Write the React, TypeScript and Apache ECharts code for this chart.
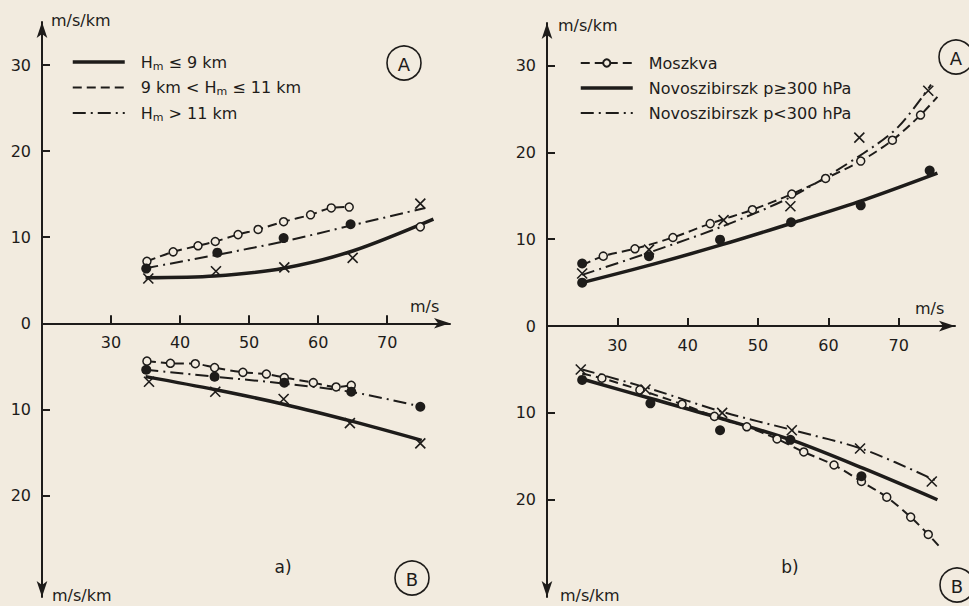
import React, { useEffect, useRef } from "react";
import * as echarts from "echarts";

type Pt = [number, number];

// ---------- axis ticks ----------
const xTicks = [30, 40, 50, 60, 70];
const yTicks = [-20, -10, 0, 10, 20, 30];

// ---------- legend names ----------
const legendA = ["Hm ≤ 9 km", "9 km < Hm ≤ 11 km", "Hm > 11 km"];
const legendB = ["Moszkva", "Novoszibirszk p≥300 hPa", "Novoszibirszk p<300 hPa"];

// ---------- panel a), part A (upper) ----------
const aTopSolid: Pt[] = [[35, 5.3], [45, 5.5], [55, 6.4], [65, 8.4], [76.7, 12.1]];
const aTopDashed: Pt[] = [[35.2, 7.2], [39, 8.3], [42.6, 9.0], [45.1, 9.5], [48.4, 10.3], [51.3, 10.9], [55, 11.8], [58.9, 12.6], [61.9, 13.4], [64.5, 13.5]];
const aTopDashDot: Pt[] = [[35, 6.4], [45, 7.9], [55, 9.5], [65, 11.4], [75.5, 13.4]];
const aTopOpenExtra: Pt[] = [[74.8, 11.2]];
const aTopFilled: Pt[] = [[35.1, 6.35], [45.4, 8.2], [55, 9.9], [64.7, 11.5]];
const aTopCross: Pt[] = [[35.4, 5.2], [45.2, 6.05], [55.1, 6.5], [65, 7.6], [74.8, 13.9]];

// ---------- panel a), part B (lower, values downward) ----------
const aBotSolid: Pt[] = [[35, 6.2], [45, 7.7], [55, 9.4], [65, 11.4], [75, 13.6]];
const aBotDashed: Pt[] = [[35.2, 4.4], [38.6, 4.65], [42.2, 4.7], [45, 5.15], [49.1, 5.7], [52.5, 5.9], [55.1, 6.3], [59.3, 6.9], [62.6, 7.4], [64.8, 7.2]];
const aBotDashDot: Pt[] = [[35, 5.4], [45, 6.2], [55, 7.0], [65, 8.0], [75, 9.7]];
const aBotFilled: Pt[] = [[35.1, 5.4], [45, 6.2], [55.1, 6.9], [64.8, 7.95], [74.8, 9.7]];
const aBotCross: Pt[] = [[35.5, 6.8], [45.1, 7.95], [55, 8.8], [64.6, 11.6], [74.8, 13.95]];

// ---------- panel b), part A (upper) ----------
const bTopMoszkva: Pt[] = [[25, 7.0], [28, 8.05], [32.5, 8.9], [37.9, 10.2], [43.2, 11.8], [49.2, 13.4], [54.8, 15.2], [59.6, 17.0], [64.6, 19.0], [69.1, 21.4], [73.1, 24.3], [75.5, 26.4]];
const bTopSolid: Pt[] = [[25, 5.0], [35, 7.1], [45, 9.4], [55, 11.9], [65, 14.5], [75.5, 17.6]];
const bTopDashDot: Pt[] = [[25, 5.9], [35, 8.6], [45, 11.5], [55, 15.0], [65, 19.9], [70, 23.0], [74.6, 27.8]];
const bTopFilled: Pt[] = [[25, 5.0], [25, 7.2], [34.5, 8.05], [44.6, 9.95], [54.7, 11.95], [64.6, 13.9], [74.4, 17.9]];
const bTopCross: Pt[] = [[25, 6.05], [34.5, 8.8], [45.1, 12.2], [54.6, 13.8], [64.4, 21.7], [74.2, 27.1]];

// ---------- panel b), part B (lower, values downward) ----------
const bBotMoszkva: Pt[] = [[25, 5.5], [27.8, 6.0], [33.2, 7.35], [39.2, 9.0], [43.8, 10.4], [48.4, 11.6], [52.7, 13.0], [56.5, 14.5], [60.8, 16.0], [64.7, 17.9], [68.3, 19.7], [71.7, 22.0], [74.2, 24.0], [76, 25.6]];
const bBotSolid: Pt[] = [[25, 6.1], [35, 8.4], [45, 10.7], [55, 13.2], [65, 16.4], [75.5, 20.0]];
const bBotDashDot: Pt[] = [[25, 5.0], [35, 7.3], [45, 9.9], [55, 12.0], [65, 14.2], [75.3, 17.8]];
const bBotFilled: Pt[] = [[25, 6.2], [34.7, 8.9], [44.6, 12.0], [54.6, 13.1], [64.7, 17.3]];
const bBotCross: Pt[] = [[24.8, 5.0], [34, 7.3], [44.9, 10.0], [54.8, 12.0], [64.5, 14.1], [74.7, 17.9]];

const INK = "#1e1c1a";
const BG = "#f2ebdf";
const FONT = "DejaVu Sans";
const CROSS = "path://M0,0L10,10M10,0L0,10";

// grid geometry (pixels) and axis ranges
const GA = { left: 42, top: 22, width: 408, height: 575, xMax: 79.1, yMin: -31.8, yMax: 35 };
const GB = { left: 547, top: 23, width: 408, height: 574, xMax: 78, yMin: -31.2, yMax: 34.9 };

const lineKinds: Record<string, any> = {
  solid: { width: 3.5, type: "solid" },
  dashed: { width: 2, type: [9, 5] },
  dashdot: { width: 2, type: [13, 5, 2, 5] },
};

const place = (d: Pt[], down: boolean) => d.map(([x, y]) => [x, down ? -y : y]);

function curve(name: string, d: Pt[], kind: string, g: number, down: boolean) {
  return {
    type: "line",
    name,
    xAxisIndex: g,
    yAxisIndex: g,
    data: place(d, down),
    smooth: 0.3,
    symbol: "none",
    silent: true,
    lineStyle: { ...lineKinds[kind], color: INK },
    itemStyle: { color: INK },
    z: 2,
  };
}

function moszkva(d: Pt[], g: number, down: boolean) {
  const pts = place(d, down);
  return {
    type: "line",
    name: "Moszkva",
    xAxisIndex: g,
    yAxisIndex: g,
    data: pts.map((p, i) => ({ value: p, symbol: i === 0 || i === pts.length - 1 ? "none" : "circle" })),
    smooth: 0.3,
    symbol: "circle",
    symbolSize: 8,
    showSymbol: true,
    silent: true,
    lineStyle: { ...lineKinds.dashed, color: INK },
    itemStyle: { color: BG, borderColor: INK, borderWidth: 1.5 },
    z: 3,
  };
}

function marks(id: string, d: Pt[], kind: string, g: number, down: boolean) {
  const base: any = {
    type: "scatter",
    name: id,
    xAxisIndex: g,
    yAxisIndex: g,
    data: place(d, down),
    silent: true,
    z: 5,
  };
  if (kind === "open") {
    base.symbol = "circle";
    base.symbolSize = 8;
    base.itemStyle = { color: BG, borderColor: INK, borderWidth: 1.5, opacity: 1 };
  } else if (kind === "filled") {
    base.symbol = "circle";
    base.symbolSize = 10;
    base.itemStyle = { color: INK, opacity: 1 };
  } else {
    base.symbol = CROSS;
    base.symbolSize = 10;
    base.itemStyle = { color: "rgba(0,0,0,0)", borderColor: INK, borderWidth: 1.6, opacity: 1 };
  }
  return base;
}

const legendText: Record<string, string> = {
  "Hm ≤ 9 km": "{t|H}{s|m}{t| ≤ 9 km}",
  "9 km < Hm ≤ 11 km": "{t|9 km < H}{s|m}{t| ≤ 11 km}",
  "Hm > 11 km": "{t|H}{s|m}{t| > 11 km}",
};

function xAxisFor(g: number, G: any) {
  const zeroY = G.top + (G.height * G.yMax) / (G.yMax - G.yMin);
  const offset = -(G.top + G.height - zeroY);
  return {
    type: "value",
    gridIndex: g,
    min: 20,
    max: G.xMax,
    position: "bottom",
    offset,
    axisLine: { onZero: false, symbol: ["none", "arrow"], symbolSize: [8, 16], lineStyle: { color: INK, width: 2 } },
    axisTick: { inside: true, length: 8, customValues: xTicks, lineStyle: { color: INK, width: 2 } },
    axisLabel: { customValues: xTicks, color: INK, fontSize: 16, fontFamily: FONT, margin: 11 },
    splitLine: { show: false },
  };
}

function yAxisFor(g: number, G: any) {
  return {
    type: "value",
    gridIndex: g,
    min: G.yMin,
    max: G.yMax,
    axisLine: { onZero: false, symbol: ["arrow", "arrow"], symbolSize: [8, 16], lineStyle: { color: INK, width: 2 } },
    axisTick: { inside: true, length: 8, customValues: yTicks, lineStyle: { color: INK, width: 2 } },
    axisLabel: {
      customValues: yTicks,
      color: INK,
      fontSize: 16,
      fontFamily: FONT,
      margin: 11,
      formatter: (v: number) => String(Math.abs(v)),
    },
    splitLine: { show: false },
  };
}

function txt(x: number, y: number, text: string, size = 16, align = "left") {
  return {
    type: "text",
    x,
    y,
    silent: true,
    style: {
      text,
      fill: INK,
      fontSize: size,
      fontFamily: FONT,
      align,
      textAlign: align,
      verticalAlign: "middle",
      textVerticalAlign: "middle",
    },
  };
}

function circled(cx: number, cy: number, letter: string) {
  return [
    { type: "circle", silent: true, shape: { cx, cy, r: 17 }, style: { fill: "none", stroke: INK, lineWidth: 1.6 } },
    txt(cx, cy + 1, letter, 18, "center"),
  ];
}

export default function App() {
  const ref = useRef<HTMLDivElement>(null);

  useEffect(() => {
    document.body.style.margin = "0";
    document.body.style.background = BG;
    if (!ref.current) return;
    const chart = echarts.init(ref.current, undefined, { renderer: "svg" });

    const legendCommon = {
      orient: "vertical",
      itemWidth: 52,
      itemHeight: 9,
      itemGap: 7,
      selectedMode: false,
      textStyle: {
        color: INK,
        fontFamily: FONT,
        fontSize: 16,
        lineHeight: 18,
        padding: [0, 0, 0, 11],
        rich: {
          t: { color: INK, fontFamily: FONT, fontSize: 16 },
          s: { color: INK, fontFamily: FONT, fontSize: 11, padding: [8, 0, 0, 0] },
        },
      },
    };
    const hideDot = { opacity: 0 };
    const thick = { width: 3.5 };

    const series: any[] = [
      // panel a, top
      curve(legendA[0], aTopSolid, "solid", 0, false),
      curve(legendA[1], aTopDashed, "dashed", 0, false),
      curve(legendA[2], aTopDashDot, "dashdot", 0, false),
      marks("a-top-open", aTopDashed, "open", 0, false),
      marks("a-top-open-extra", aTopOpenExtra, "open", 0, false),
      marks("a-top-filled", aTopFilled, "filled", 0, false),
      marks("a-top-cross", aTopCross, "cross", 0, false),
      // panel a, bottom
      curve(legendA[0], aBotSolid, "solid", 0, true),
      curve(legendA[1], aBotDashed, "dashed", 0, true),
      curve(legendA[2], aBotDashDot, "dashdot", 0, true),
      marks("a-bot-open", aBotDashed, "open", 0, true),
      marks("a-bot-filled", aBotFilled, "filled", 0, true),
      marks("a-bot-cross", aBotCross, "cross", 0, true),
      // panel b, top
      moszkva(bTopMoszkva, 1, false),
      curve(legendB[1], bTopSolid, "solid", 1, false),
      curve(legendB[2], bTopDashDot, "dashdot", 1, false),
      marks("b-top-filled", bTopFilled, "filled", 1, false),
      marks("b-top-cross", bTopCross, "cross", 1, false),
      // panel b, bottom
      moszkva(bBotMoszkva, 1, true),
      curve(legendB[1], bBotSolid, "solid", 1, true),
      curve(legendB[2], bBotDashDot, "dashdot", 1, true),
      marks("b-bot-filled", bBotFilled, "filled", 1, true),
      marks("b-bot-cross", bBotCross, "cross", 1, true),
    ];

    chart.setOption({
      animation: false,
      backgroundColor: BG,
      color: [INK],
      textStyle: { fontFamily: FONT, color: INK },
      grid: [
        { left: GA.left, top: GA.top, width: GA.width, height: GA.height, containLabel: false, outerBoundsMode: "none" },
        { left: GB.left, top: GB.top, width: GB.width, height: GB.height, containLabel: false, outerBoundsMode: "none" },
      ],
      xAxis: [xAxisFor(0, GA), xAxisFor(1, GB)],
      yAxis: [yAxisFor(0, GA), yAxisFor(1, GB)],
      legend: [
        {
          ...legendCommon,
          data: legendA.map((n, i) => (i === 0 ? { name: n, itemStyle: hideDot, lineStyle: thick } : { name: n, itemStyle: hideDot })),
          left: 66,
          top: 48,
          formatter: (n: string) => legendText[n] || n,
        },
        {
          ...legendCommon,
          data: legendB.map((n, i) =>
            i === 0 ? { name: n } : i === 1 ? { name: n, itemStyle: hideDot, lineStyle: thick } : { name: n, itemStyle: hideDot }
          ),
          left: 574,
          top: 49,
          formatter: (n: string) => `{t|${n}}`,
        },
      ],
      graphic: [
        txt(51, 20, "m/s/km"),
        txt(52, 595, "m/s/km"),
        txt(558, 25, "m/s/km"),
        txt(560, 595, "m/s/km"),
        txt(410, 306, "m/s"),
        txt(915, 308, "m/s"),
        txt(283, 567, "a)", 17, "center"),
        txt(790, 567, "b)", 17, "center"),
        ...circled(404, 63, "A"),
        ...circled(956, 57, "A"),
        ...circled(412, 578, "B"),
        ...circled(957, 585, "B"),
      ],
      series,
    });

    return () => chart.dispose();
  }, []);

  return <div ref={ref} style={{ width: 969, height: 606 }} />;
}
